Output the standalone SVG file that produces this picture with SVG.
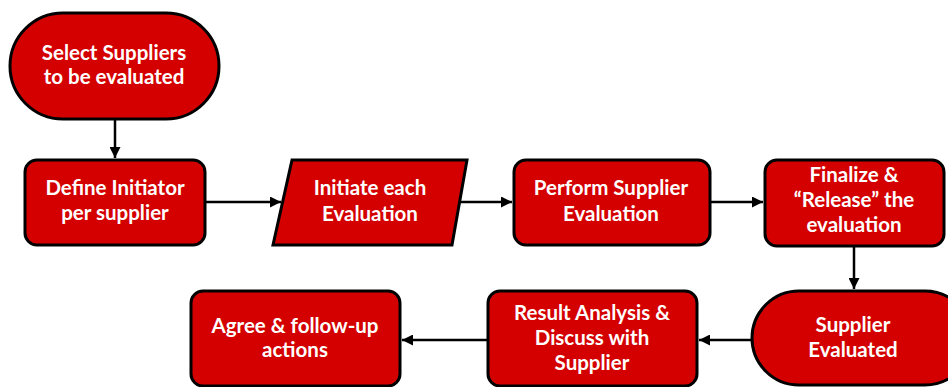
<svg xmlns="http://www.w3.org/2000/svg" width="948" height="387" viewBox="0 0 948 387">
<style>
.n{fill:#D40000;stroke:#000;stroke-width:3}
.t{font-family:Lato,"Open Sans",sans-serif;font-weight:700;font-size:20.5px;fill:#fff;text-anchor:middle}
.c{fill:none;stroke:#000;stroke-width:2.5}
</style>
<defs>
<marker id="ah" viewBox="0 0 10 10" refX="10" refY="5" markerWidth="4.4" markerHeight="4.4" orient="auto" markerUnits="strokeWidth">
<path d="M0,0 L10,5 L0,10 z" fill="#000"/>
</marker>
</defs>
<g id="connectors">
<path class="c" d="M115,119 V158" marker-end="url(#ah)"/>
<path class="c" d="M205,202 H281" marker-end="url(#ah)"/>
<path class="c" d="M460,202 H512" marker-end="url(#ah)"/>
<path class="c" d="M710,202 H763" marker-end="url(#ah)"/>
<path class="c" d="M854,246 V289" marker-end="url(#ah)"/>
<path class="c" d="M751,340 H699" marker-end="url(#ah)"/>
<path class="c" d="M487,340 H402" marker-end="url(#ah)"/>
</g>
<g id="start">
<rect class="n" x="10" y="13" width="209" height="106" rx="53"/>
<text class="t" x="114" y="60">Select Suppliers</text>
<text class="t" x="114" y="84">to be evaluated</text>
</g>
<g id="define">
<rect class="n" x="25" y="160" width="180" height="85" rx="12"/>
<text class="t" x="115" y="195">Define Initiator</text>
<text class="t" x="115" y="220">per supplier</text>
</g>
<g id="initiate">
<polygon class="n" points="292,160 467,160 452,245 273,245"/>
<text class="t" x="370" y="195">Initiate each</text>
<text class="t" x="370" y="221">Evaluation</text>
</g>
<g id="perform">
<rect class="n" x="514" y="160" width="196" height="85" rx="12"/>
<text class="t" x="611" y="195">Perform Supplier</text>
<text class="t" x="611" y="221">Evaluation</text>
</g>
<g id="finalize">
<rect class="n" x="765" y="160" width="179" height="86" rx="12"/>
<text class="t" x="854" y="182">Finalize &amp;</text>
<text class="t" x="854" y="207">“Release” the</text>
<text class="t" x="854" y="232">evaluation</text>
</g>
<g id="evaluated">
<rect class="n" x="752" y="291" width="220" height="94" rx="47"/>
<text class="t" x="853" y="332">Supplier</text>
<text class="t" x="853" y="357">Evaluated</text>
</g>
<g id="result">
<rect class="n" x="488" y="291" width="209" height="95" rx="12"/>
<text class="t" x="592" y="320">Result Analysis &amp;</text>
<text class="t" x="592" y="345">Discuss with</text>
<text class="t" x="592" y="370">Supplier</text>
</g>
<g id="agree">
<rect class="n" x="191" y="291" width="209" height="95" rx="12"/>
<text class="t" x="295" y="333">Agree &amp; follow-up</text>
<text class="t" x="295" y="357">actions</text>
</g>
</svg>
